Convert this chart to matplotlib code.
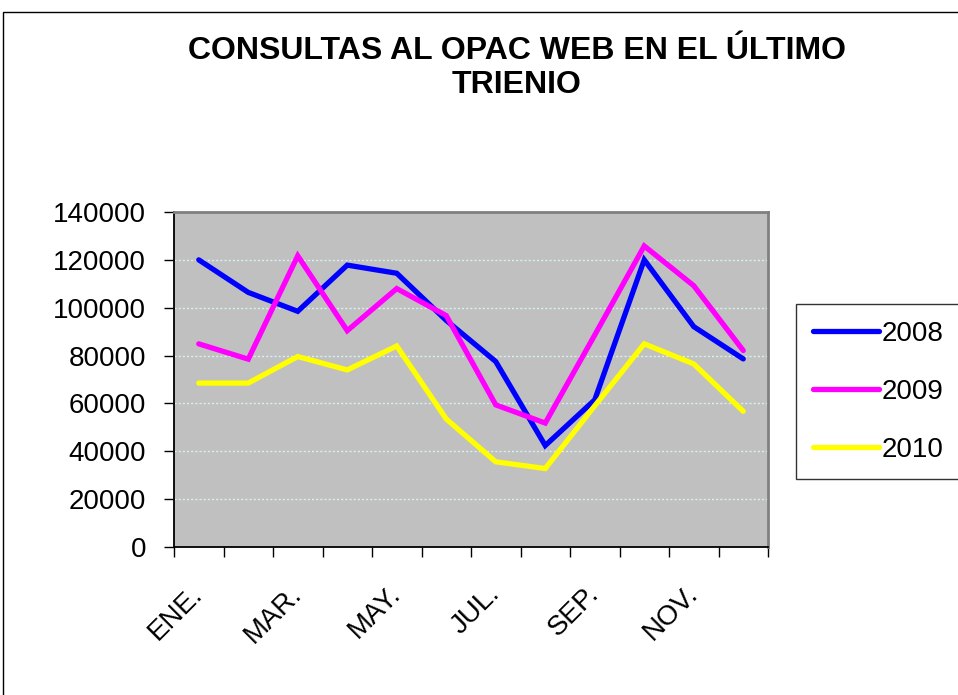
import numpy as np
import matplotlib
matplotlib.use("Agg")
import matplotlib.pyplot as plt
from matplotlib.patches import Rectangle

# months of the year (category axis)
meses = ["ENE.", "FEB.", "MAR.", "ABR.", "MAY.", "JUN.",
         "JUL.", "AGO.", "SEP.", "OCT.", "NOV.", "DIC."]

# monthly queries per year
consultas_2008 = [120000, 106400, 98500, 117800, 114400, 94700,
                  77500, 42400, 61500, 120000, 92100, 78600]
consultas_2009 = [84900, 78500, 121700, 90400, 108000, 96700,
                  59400, 51800, 88600, 125800, 109200, 82100]
consultas_2010 = [68500, 68500, 79600, 74000, 84000, 53500,
                  35600, 32800, 59000, 84900, 76500, 56700]

series = [("2008", consultas_2008, "#0000ff"),
          ("2009", consultas_2009, "#ff00ff"),
          ("2010", consultas_2010, "#ffff00")]

plt.rcParams["font.family"] = ["Liberation Sans", "DejaVu Sans"]

fig = plt.figure(figsize=(9.58, 6.95), dpi=100)
ax = fig.add_axes([174 / 958, 1 - 547 / 695, 594 / 958, 335 / 695])

# outer chart border
fig.patches.append(Rectangle((3 / 958, -0.1), 1.2, 1 - 12 / 695 + 0.1,
                             transform=fig.transFigure, fill=False,
                             edgecolor="black", linewidth=1))

x = np.arange(len(meses))
for nombre, valores, color in series:
    ax.plot(x, valores, color=color, linewidth=3.8, label=nombre,
            solid_capstyle="round", solid_joinstyle="miter")

ax.set_facecolor("#c0c0c0")
ax.set_xlim(-0.5, len(meses) - 0.5)
ax.set_ylim(0, 140000)
ax.set_yticks(np.arange(0, 140001, 20000))
ax.yaxis.grid(True, color="#d4f2f2", linestyle=(0, (1.5, 1.5)), linewidth=1)
ax.set_axisbelow(True)

ax.set_xticks(x[::2])
ax.set_xticklabels(meses[::2], rotation=45, ha="right", va="center",
                   rotation_mode="anchor", fontsize=20)
ax.set_xticks(np.arange(-0.5, len(meses), 1), minor=True)
ax.tick_params(axis="x", which="major", length=0, pad=31)
ax.tick_params(axis="x", which="minor", length=7, width=1, color="black",
               direction="out")
ax.tick_params(axis="y", length=7, width=1, direction="out", pad=13,
               labelsize=20)

for lado in ["top", "right"]:
    ax.spines[lado].set_color("#808080")
    ax.spines[lado].set_linewidth(2)
for lado in ["left", "bottom"]:
    ax.spines[lado].set_color("black")
    ax.spines[lado].set_linewidth(1.3)

fig.text(517 / 958, 1 - 68 / 695,
         "CONSULTAS AL OPAC WEB EN EL ÚLTIMO\nTRIENIO",
         ha="center", va="center", fontsize=23, fontweight="bold",
         linespacing=1.2)

leg = ax.legend(loc="upper left", bbox_to_anchor=(796 / 958, 1 - 304 / 695, 0.3, 0),
                bbox_transform=fig.transFigure, mode="expand", fontsize=20,
                frameon=True, fancybox=False, edgecolor="black",
                handlelength=2.4, handletextpad=0.1, labelspacing=1.15,
                borderpad=0.6, borderaxespad=0)
leg.get_frame().set_linewidth(1)

fig.savefig("out.png", dpi=100)
